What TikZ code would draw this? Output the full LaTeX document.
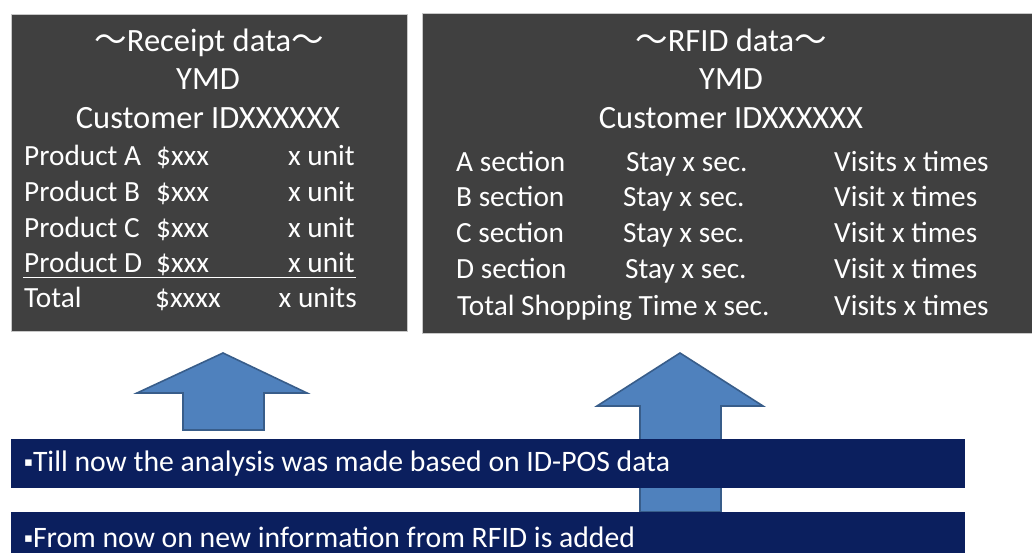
\documentclass[tikz,border=0pt]{standalone}
\usepackage{fontspec}
\setmainfont{Carlito}
\newfontfamily\cjkfont{Noto Sans CJK JP}
\newfontfamily\symfont{DejaVu Sans}
\usetikzlibrary{positioning}
\definecolor{panelgray}{HTML}{404040}
\definecolor{panelline}{HTML}{C8C8C8}
\definecolor{arrowblue}{HTML}{4F81BD}
\definecolor{arrowline}{HTML}{385D8A}
\definecolor{bandnavy}{HTML}{0B1F5E}
\newcommand{\wave}{{\cjkfont ～}}
\newcommand{\sqbullet}{\raisebox{5pt}{\symfont\fontsize{13}{13}\selectfont ▪}}

\begin{document}
\begin{tikzpicture}[x=1pt, y=-1pt,
  panel/.style={fill=panelgray, draw=panelline, line width=1pt, anchor=north west},
  band/.style={fill=bandnavy, anchor=north west, minimum width=954pt, inner sep=0pt},
  uparrow/.style={fill=arrowblue, draw=arrowline, line width=1.6pt},
  head/.style={text=white, font=\fontsize{32.5}{38}\selectfont, anchor=base, inner sep=0pt},
  cell/.style={text=white, font=\fontsize{29.3}{34}\selectfont, inner sep=0pt},
  note/.style={text=white, font=\fontsize{29.7}{34}\selectfont, anchor=west, inner sep=0pt}]
  \useasboundingbox (0,0) rectangle (1032,553);

  % arrows first, the bands lie over them
  \draw[uparrow] (223,353) -- (307,393) -- (264,393) -- (264,430) -- (183,430)
    -- (183,393) -- (137,393) -- cycle;
  \draw[uparrow] (680,353) -- (763,406) -- (721,406) -- (721,512) -- (640,512)
    -- (640,406) -- (597,406) -- cycle;

  % receipt panel
  \node[panel, minimum width=396pt, minimum height=317pt] (receipt) at (11,14) {};
  \node[head] (rtitle) at (209,52) {\wave Receipt data\wave};
  \node[head] (rymd) at (208,90) {YMD};
  \node[head] (rcust) at (208,129) {Customer IDXXXXXX};
  \foreach \p/\yy in {A/166, B/202, C/237, D/272} {
    \node[cell, anchor=base west] (prod\p) at (24,\yy) {Product \p};
    \node[cell, anchor=base west] (price\p) at (156,\yy) {\$xxx};
    \node[cell, anchor=base east] (unit\p) at (355,\yy) {x unit};
  }
  \draw[white, line width=1pt] (23,277) -- (356,277);
  \node[cell, anchor=base west] (rtotal) at (24,307) {Total};
  \node[cell, anchor=base west] (rtprice) at (155,307) {\$xxxx};
  \node[cell, anchor=base east] (rtunit) at (357,307) {x units};

  % RFID panel
  \node[panel, minimum width=620pt, minimum height=320pt] (rfid) at (422,13) {};
  \node[head] (ftitle) at (731,52) {\wave RFID data\wave};
  \node[head] (fymd) at (731,90) {YMD};
  \node[head] (fcust) at (731,129) {Customer IDXXXXXX};
  \foreach \s/\yy/\sx/\vt in {A/172/626/Visits, B/207/623/Visit, C/242/623/Visit, D/278/625/Visit} {
    \node[cell, anchor=base west] (sec\s) at (456,\yy) {\s\ section};
    \node[cell, anchor=base west] (stay\s) at (\sx,\yy) {Stay x sec.};
    \node[cell, anchor=base west] (visit\s) at (834,\yy) {\vt\ x times};
  }
  \node[cell, anchor=base west] (ftotal) at (457,315) {Total Shopping Time x sec.};
  \node[cell, anchor=base west] (fvisit) at (834,315) {Visits x times};

  % notes
  \node[band, minimum height=49pt] (till) at (11,439) {};
  \node[note] (tilltext) at (24,464) {\sqbullet Till now the analysis was made based on ID-POS data};
  \node[band, minimum height=43pt] (from) at (11,512) {};
  \node[note] (fromtext) at (24,537) {\sqbullet From now on new information from RFID is added};
\end{tikzpicture}
\end{document}
